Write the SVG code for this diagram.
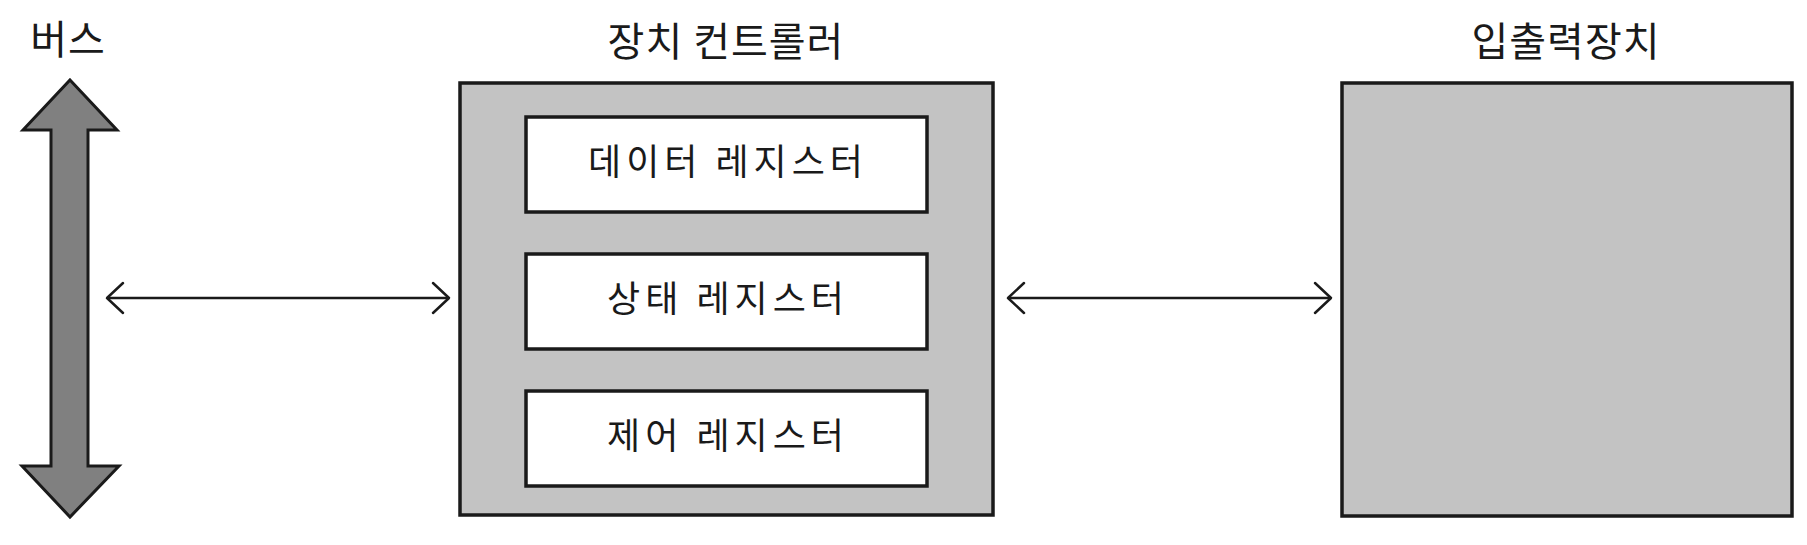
<svg xmlns="http://www.w3.org/2000/svg" width="1807" height="545" viewBox="0 0 1807 545">
  <style>
    .title { font-family: "Noto Sans CJK KR", "Noto Sans", sans-serif; font-size: 40px; fill: #1a1a1a; text-anchor: middle; letter-spacing: 1px; }
    .label { font-family: "Noto Sans CJK KR", "Noto Sans", sans-serif; font-size: 36px; fill: #1a1a1a; text-anchor: middle; letter-spacing: 5px; }
    .outer { fill: #c3c3c3; stroke: #1a1a1a; stroke-width: 3.5; }
    .inner { fill: #ffffff; stroke: #1a1a1a; stroke-width: 3.5; }
    .bus { fill: #808080; stroke: #1a1a1a; stroke-width: 3; stroke-linejoin: miter; }
    .conn { fill: none; stroke: #1a1a1a; stroke-width: 2.5; }
  </style>
  <defs>
    <marker id="chev" viewBox="-20 -20 24 40" refX="0" refY="0" markerWidth="24" markerHeight="40" markerUnits="userSpaceOnUse" orient="auto-start-reverse">
      <path d="M -16 -15 L 0 0 L -16 15" fill="none" stroke="#1a1a1a" stroke-width="2.5" stroke-linecap="round" stroke-linejoin="round"/>
    </marker>
  </defs>
  <rect width="1807" height="545" fill="#ffffff"/>

  <g id="bus">
    <polygon class="bus" points="70,80 117,130 88,130 88,466 119,466 70,517 22,466 51,466 51,130 23,130"/>
    <text class="title" x="68" y="54">버스</text>
  </g>

  <g id="controller">
    <text class="title" x="726" y="56">장치 컨트롤러</text>
    <rect class="outer" x="460" y="83" width="533" height="432"/>
    <g id="data-register">
      <rect class="inner" x="526" y="117" width="401" height="95"/>
      <text class="label" x="728" y="175">데이터 레지스터</text>
    </g>
    <g id="status-register">
      <rect class="inner" x="526" y="254" width="401" height="95"/>
      <text class="label" x="728" y="312">상태 레지스터</text>
    </g>
    <g id="control-register">
      <rect class="inner" x="526" y="391" width="401" height="95"/>
      <text class="label" x="728" y="449">제어 레지스터</text>
    </g>
  </g>

  <g id="io-device">
    <text class="title" x="1566" y="56">입출력장치</text>
    <rect class="outer" x="1342" y="83" width="450" height="433"/>
  </g>

  <g id="connectors">
    <line class="conn" x1="107" y1="298" x2="449" y2="298" marker-start="url(#chev)" marker-end="url(#chev)"/>
    <line class="conn" x1="1008" y1="298" x2="1331" y2="298" marker-start="url(#chev)" marker-end="url(#chev)"/>
  </g>
</svg>
